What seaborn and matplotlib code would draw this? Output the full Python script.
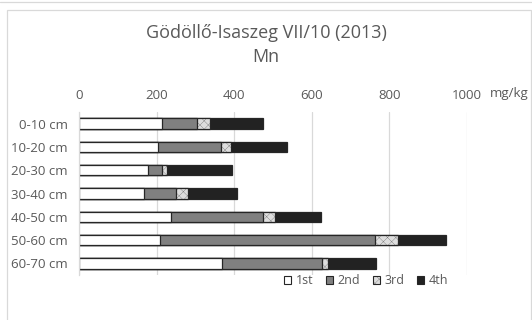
#!/usr/bin/env python3

import matplotlib
matplotlib.use("Agg")
import matplotlib.pyplot as plt
import numpy as np
import pandas as pd
import seaborn as sns
from matplotlib.patches import Patch, Rectangle
from matplotlib.lines import Line2D

DEPTHS = ["0-10 cm", "10-20 cm", "20-30 cm", "30-40 cm", "40-50 cm", "50-60 cm", "60-70 cm"]
SERIES = ["1st", "2nd", "3rd", "4th"]
FIRST = [213, 204, 177, 168, 236, 209, 369]
SECOND = [90, 162, 36, 82, 239, 555, 256]
THIRD = [34, 27, 13, 30, 30, 58, 17]
FOURTH = [138, 143, 169, 126, 118, 123, 123]
X_TICKS = [0, 200, 400, 600, 800, 1000]

COLORS = {"1st": "#ffffff", "2nd": "#808080", "3rd": "#dedede", "4th": "#222222"}
HATCHES = {"1st": "", "2nd": "", "3rd": "xxxx", "4th": ""}
TEXT = "#595959"

sns.set_theme(style="white")
plt.rcParams["font.family"] = ["Open Sans", "DejaVu Sans"]
plt.rcParams["hatch.linewidth"] = 0.15

frame = pd.DataFrame({"depth": DEPTHS, "1st": FIRST, "2nd": SECOND, "3rd": THIRD, "4th": FOURTH})
cum = frame[SERIES].cumsum(axis=1)

fig = plt.figure(figsize=(5.32, 3.2), dpi=100)
ax = fig.add_axes([79 / 532, 1 - 275 / 320, (467 - 79) / 532, (275 - 112) / 320])

# draw cumulative totals back to front so the segments stack
for name in reversed(SERIES):
    n_before = len(ax.patches)
    sns.barplot(
        x=cum[name],
        y=frame["depth"],
        orient="h",
        color=COLORS[name],
        saturation=1,
        width=0.45,
        edgecolor="#262626",
        linewidth=0.9,
        ax=ax,
    )
    for patch in ax.patches[n_before:]:
        patch.set_facecolor(COLORS[name])
        if HATCHES[name]:
            patch.set_hatch(HATCHES[name])

ax.set_xlim(0, 1000)
ax.set_ylim(6.5, -0.5)
ax.set_xticks(X_TICKS)
ax.xaxis.tick_top()
ax.tick_params(axis="x", length=0, pad=7, labelsize=9.5, labelcolor=TEXT)
ax.tick_params(axis="y", length=0, pad=8, labelsize=9.5, labelcolor=TEXT)
ax.set_xlabel("")
ax.set_ylabel("")
ax.grid(True, axis="x", color="#d9d9d9", linewidth=0.9)
ax.set_axisbelow(True)
for side in ["top", "right", "bottom"]:
    ax.spines[side].set_visible(False)
ax.spines["left"].set_color("#d9d9d9")
ax.spines["left"].set_linewidth(0.9)

fig.text(509 / 532, 1 - 94 / 320, "mg/kg", ha="center", va="center", fontsize=9.5, color=TEXT)
fig.text(266 / 532, 1 - 33 / 320, "Gödöllő-Isaszeg VII/10 (2013)", ha="center", va="center",
         fontsize=13, color=TEXT)
fig.text(266 / 532, 1 - 57 / 320, "Mn", ha="center", va="center", fontsize=13, color=TEXT)

handles = [
    Patch(facecolor=COLORS[s], edgecolor="#262626", hatch=HATCHES[s], linewidth=0.8, label=s)
    for s in SERIES
]
fig.legend(
    handles=handles,
    loc="center",
    bbox_to_anchor=(366 / 532, 1 - 281 / 320),
    ncol=4,
    frameon=False,
    fontsize=9,
    handlelength=0.55,
    handleheight=0.55,
    handletextpad=0.4,
    columnspacing=1.0,
    borderpad=0,
    labelcolor=TEXT,
)

# chart frame
fig.add_artist(Rectangle((7 / 532, -0.05), (531 - 7) / 532, 1 - 10 / 320 + 0.05,
                         transform=fig.transFigure, fill=False, edgecolor="#d9d9d9", linewidth=0.9))
fig.add_artist(Line2D([0, 1], [1 - 1.5 / 320, 1 - 1.5 / 320], transform=fig.transFigure,
                      color="#d9d9d9", linewidth=0.9))

fig.savefig("out.png", dpi=100)
